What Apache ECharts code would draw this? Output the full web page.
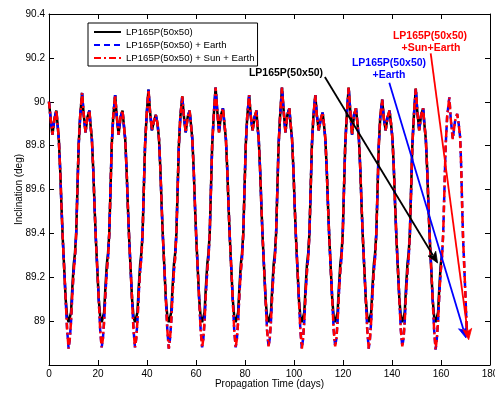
<!DOCTYPE html>
<html>
<head>
<meta charset="utf-8">
<script src="https://cdn.jsdelivr.net/npm/echarts@6/dist/echarts.min.js"></script>
<style>
  html, body { margin: 0; padding: 0; background: #fff; }
  #chart { width: 495px; height: 393px; }
</style>
</head>
<body>
<div id="chart"></div>
<script>
// propagation time (days), shared by all three runs
const days = [
  0, 0.6, 1.4, 2.2, 3.0, 3.4, 4.0, 4.6, 5.1, 5.6, 6.2, 6.8, 7.4,
  8.0, 8.5, 9.0, 9.5, 10.1, 10.6, 11.1, 11.6, 12.1, 12.7, 13.5, 14.1, 14.9, 15.7, 16.5, 16.9, 17.5, 18.1, 18.6, 19.1, 19.7, 20.3, 20.9,
  21.5, 22.0, 22.5, 23.0, 23.6, 24.1, 24.6, 25.1, 25.6, 26.2, 27.0, 27.6, 28.4, 29.2, 30.0, 30.5, 31.1, 31.7, 32.2, 32.7, 33.3, 33.9, 34.5,
  35.1, 35.6, 36.1, 36.6, 37.2, 37.7, 38.2, 38.7, 39.2, 39.8, 40.6, 41.2, 42.0, 42.8, 43.6, 44.3, 44.9, 45.5, 46.0, 46.5, 47.1, 47.7, 48.3,
  48.9, 49.4, 49.9, 50.4, 51.0, 51.5, 52.0, 52.5, 53.0, 53.6, 54.4, 55.0, 55.8, 56.6, 57.4, 57.9, 58.5, 59.1, 59.6, 60.1, 60.7, 61.3, 61.9,
  62.5, 63.0, 63.5, 64.0, 64.6, 65.1, 65.6, 66.1, 66.6, 67.2, 68.0, 68.6, 69.4, 70.2, 71.0, 71.6, 72.2, 72.8, 73.3, 73.8, 74.4, 75.0, 75.6,
  76.2, 76.7, 77.2, 77.7, 78.3, 78.8, 79.3, 79.8, 80.3, 80.9, 81.7, 82.3, 83.1, 83.9, 84.7, 85.0, 85.6, 86.2, 86.7, 87.2, 87.8, 88.4, 89.0,
  89.6, 90.1, 90.6, 91.1, 91.7, 92.2, 92.7, 93.2, 93.7, 94.3, 95.1, 95.7, 96.5, 97.3, 98.1, 98.6, 99.2, 99.8, 100.3, 100.8, 101.4, 102.0, 102.6,
  103.2, 103.7, 104.2, 104.7, 105.3, 105.8, 106.3, 106.8, 107.3, 107.9, 108.7, 109.3, 110.1, 110.9, 111.7, 112.2, 112.8, 113.4, 113.9, 114.4, 115.0, 115.6, 116.2,
  116.8, 117.3, 117.8, 118.3, 118.9, 119.4, 119.9, 120.4, 120.9, 121.5, 122.3, 122.9, 123.7, 124.5, 125.3, 125.9, 126.5, 127.1, 127.6, 128.1, 128.7, 129.3, 129.9,
  130.5, 131.0, 131.5, 132.0, 132.6, 133.1, 133.6, 134.1, 134.6, 135.2, 136.0, 136.6, 137.4, 138.2, 139.0, 139.6, 140.2, 140.8, 141.3, 141.8, 142.4, 143.0, 143.6,
  144.2, 144.7, 145.2, 145.7, 146.3, 146.8, 147.3, 147.8, 148.3, 148.9, 149.7, 150.3, 151.1, 151.9, 152.7, 153.2, 153.8, 154.4, 154.9, 155.4, 156.0, 156.6, 157.2,
  157.8, 158.3, 158.8, 159.3, 159.9, 160.4, 160.9, 161.4, 161.9, 162.5, 163.4, 164.0, 164.8, 165.7, 166.6, 167.2, 167.8, 168.2, 168.6, 169.0, 169.6, 170.1, 170.6
]

// LP165P(50x50) only - stops at ~160 days
const baseIncl = [
  90.0, 89.93, 89.85, 89.92, 89.96, 89.91, 89.83, 89.68, 89.52, 89.38, 89.24, 89.10, 89.02,
  88.995, 89.0, 89.04, 89.15, 89.26, 89.31, 89.40, 89.60, 89.80, 89.93, 90.04, 89.95, 89.86, 89.93, 89.96, 89.90, 89.83, 89.68, 89.52, 89.38, 89.24, 89.10, 89.02,
  88.995, 89.0, 89.04, 89.15, 89.26, 89.31, 89.40, 89.60, 89.80, 89.93, 90.03, 89.94, 89.85, 89.93, 89.96, 89.90, 89.83, 89.68, 89.52, 89.38, 89.24, 89.10, 89.02,
  88.995, 89.0, 89.04, 89.15, 89.26, 89.31, 89.40, 89.60, 89.80, 89.93, 90.055, 89.96, 89.87, 89.91, 89.94, 89.90, 89.83, 89.68, 89.52, 89.38, 89.24, 89.10, 89.02,
  88.995, 89.0, 89.04, 89.15, 89.26, 89.31, 89.40, 89.60, 89.80, 89.93, 90.025, 89.94, 89.86, 89.93, 89.96, 89.90, 89.83, 89.68, 89.52, 89.38, 89.24, 89.10, 89.02,
  88.995, 89.0, 89.04, 89.15, 89.26, 89.31, 89.40, 89.60, 89.80, 89.93, 90.065, 89.97, 89.86, 89.94, 89.97, 89.90, 89.83, 89.68, 89.52, 89.38, 89.24, 89.10, 89.02,
  88.995, 89.0, 89.04, 89.15, 89.26, 89.31, 89.40, 89.60, 89.80, 89.93, 90.03, 89.94, 89.87, 89.93, 89.96, 89.90, 89.83, 89.68, 89.52, 89.38, 89.24, 89.10, 89.02,
  88.995, 89.0, 89.04, 89.15, 89.26, 89.31, 89.40, 89.60, 89.80, 89.93, 90.065, 89.97, 89.86, 89.94, 89.97, 89.90, 89.83, 89.68, 89.52, 89.38, 89.24, 89.10, 89.02,
  88.995, 89.0, 89.04, 89.15, 89.26, 89.31, 89.40, 89.60, 89.80, 89.93, 90.03, 89.94, 89.87, 89.92, 89.95, 89.90, 89.83, 89.68, 89.52, 89.38, 89.24, 89.10, 89.02,
  88.995, 89.0, 89.04, 89.15, 89.26, 89.31, 89.40, 89.60, 89.80, 89.93, 90.065, 89.97, 89.85, 89.94, 89.97, 89.90, 89.83, 89.68, 89.52, 89.38, 89.24, 89.10, 89.02,
  88.995, 89.0, 89.04, 89.15, 89.26, 89.31, 89.40, 89.60, 89.80, 89.93, 90.01, 89.93, 89.87, 89.93, 89.96, 89.90, 89.83, 89.68, 89.52, 89.38, 89.24, 89.10, 89.02,
  88.995, 89.0, 89.04, 89.15, 89.26, 89.31, 89.40, 89.60, 89.80, 89.93, 90.06, 89.96, 89.87, 89.94, 89.97, 89.90, 89.83, 89.68, 89.52, 89.38, 89.24, 89.10, 89.02,
  88.995, 89.0, 89.04, 89.15, 89.26, 89.30
]

// LP165P(50x50) + Earth
const earthIncl = [
  90.0, 89.93, 89.85, 89.92, 89.96, 89.91, 89.83, 89.68, 89.52, 89.38, 89.24, 89.10, 88.96,
  88.875, 88.92, 89.00, 89.12, 89.23, 89.29, 89.40, 89.60, 89.80, 89.93, 90.04, 89.95, 89.86, 89.93, 89.96, 89.90, 89.83, 89.68, 89.52, 89.38, 89.24, 89.10, 88.96,
  88.88, 88.92, 89.00, 89.12, 89.23, 89.29, 89.40, 89.60, 89.80, 89.93, 90.03, 89.94, 89.85, 89.93, 89.96, 89.90, 89.83, 89.68, 89.52, 89.38, 89.24, 89.10, 88.96,
  88.88, 88.92, 89.00, 89.12, 89.23, 89.29, 89.40, 89.60, 89.80, 89.93, 90.055, 89.96, 89.87, 89.91, 89.94, 89.90, 89.83, 89.68, 89.52, 89.38, 89.24, 89.10, 88.96,
  88.875, 88.92, 89.00, 89.12, 89.23, 89.29, 89.40, 89.60, 89.80, 89.93, 90.025, 89.94, 89.86, 89.93, 89.96, 89.90, 89.83, 89.68, 89.52, 89.38, 89.24, 89.10, 88.96,
  88.88, 88.92, 89.00, 89.12, 89.23, 89.29, 89.40, 89.60, 89.80, 89.93, 90.065, 89.97, 89.86, 89.94, 89.97, 89.90, 89.83, 89.68, 89.52, 89.38, 89.24, 89.10, 88.96,
  88.88, 88.92, 89.00, 89.12, 89.23, 89.29, 89.40, 89.60, 89.80, 89.93, 90.03, 89.94, 89.87, 89.93, 89.96, 89.90, 89.83, 89.68, 89.52, 89.38, 89.24, 89.10, 88.96,
  88.885, 88.92, 89.00, 89.12, 89.23, 89.29, 89.40, 89.60, 89.80, 89.93, 90.065, 89.97, 89.86, 89.94, 89.97, 89.90, 89.83, 89.68, 89.52, 89.38, 89.24, 89.10, 88.96,
  88.875, 88.92, 89.00, 89.12, 89.23, 89.29, 89.40, 89.60, 89.80, 89.93, 90.03, 89.94, 89.87, 89.92, 89.95, 89.90, 89.83, 89.68, 89.52, 89.38, 89.24, 89.10, 88.96,
  88.885, 88.92, 89.00, 89.12, 89.23, 89.29, 89.40, 89.60, 89.80, 89.93, 90.065, 89.97, 89.85, 89.94, 89.97, 89.90, 89.83, 89.68, 89.52, 89.38, 89.24, 89.10, 88.96,
  88.875, 88.92, 89.00, 89.12, 89.23, 89.29, 89.40, 89.60, 89.80, 89.93, 90.01, 89.93, 89.87, 89.93, 89.96, 89.90, 89.83, 89.68, 89.52, 89.38, 89.24, 89.10, 88.96,
  88.885, 88.92, 89.00, 89.12, 89.23, 89.29, 89.40, 89.60, 89.80, 89.93, 90.06, 89.96, 89.87, 89.94, 89.97, 89.90, 89.83, 89.68, 89.52, 89.38, 89.24, 89.10, 88.96,
  88.87, 88.92, 89.00, 89.12, 89.23, 89.29, 89.40, 89.60, 89.80, 89.93, 90.02, 89.92, 89.83, 89.91, 89.945, 89.90, 89.84, 89.72, 89.54, 89.38, 89.22, 89.08, 88.93
]

// LP165P(50x50) + Sun + Earth: indistinguishable from the Earth run at this scale
const sunEarthIncl = earthIncl.slice()

const seriesNames = ['LP165P(50x50)', 'LP165P(50x50) + Earth', 'LP165P(50x50) + Sun + Earth']
const seriesColors = ['#000000', '#0000ff', '#ff0000']

const xMin = 0, xMax = 180, xStep = 20
const yMin = 88.8, yMax = 90.4, yStep = 0.2

// annotation arrows, [start, tip] in data units
const arrows = [
  { from: [112.6, 90.113], to: [158.6, 89.265], color: seriesColors[0] },
  { from: [138.9, 90.087], to: [170.2, 88.923], color: seriesColors[1] },
  { from: [155.8, 90.221], to: [171.3, 88.915], color: seriesColors[2] }
]

const FONT = 'Liberation Sans, Arial, sans-serif'

const chart = echarts.init(document.getElementById('chart'), null, { renderer: 'canvas' })

function axisCommon(pos) {
  return {
    type: 'value',
    position: pos,
    nameMoveOverlap: false,
    splitLine: { show: false },
    axisLine: { show: true, onZero: false, lineStyle: { color: '#000', width: 1 } },
    axisTick: { show: true, inside: true, length: 5, lineStyle: { color: '#000', width: 1 } },
  }
}

function label(text, x, y, color) {
  return {
    type: 'text', x: x, y: y, z: 100,
    style: {
      text: text, fill: color, font: 'bold 10.5px ' + FONT,
      textAlign: 'center', textVerticalAlign: 'middle', align: 'center', verticalAlign: 'middle'
    }
  }
}

const option = {
  animation: false,
  backgroundColor: '#fff',
  grid: { left: 49, top: 14, width: 441, height: 351, containLabel: false, outerBoundsMode: 'none' },
  legend: {
    orient: 'vertical',
    left: 88,
    top: 23,
    padding: [3, 3, 2, 5],
    itemGap: 1,
    itemWidth: 27,
    itemHeight: 10,
    backgroundColor: '#fff',
    borderColor: '#000',
    borderWidth: 1,
    itemStyle: { opacity: 0 },
    textStyle: { fontFamily: FONT, fontSize: 9.6, color: '#000', lineHeight: 12 },
    data: seriesNames
  },
  xAxis: [
    Object.assign(axisCommon('bottom'), {
      min: xMin, max: xMax, interval: xStep,
      name: 'Propagation Time (days)',
      nameLocation: 'middle',
      nameGap: 14,
      nameTextStyle: { fontFamily: FONT, fontSize: 10, color: '#000', verticalAlign: 'top' },
      axisLabel: { fontFamily: FONT, fontSize: 10, color: '#000', margin: 4 }
    }),
    Object.assign(axisCommon('top'), {
      min: xMin, max: xMax, interval: xStep,
      axisLabel: { show: false }
    })
  ],
  yAxis: [
    Object.assign(axisCommon('left'), {
      min: yMin, max: yMax, interval: yStep,
      name: 'Inclination (deg)',
      nameLocation: 'middle',
      nameGap: 25,
      nameTextStyle: { fontFamily: FONT, fontSize: 10, color: '#000' },
      axisLabel: {
        fontFamily: FONT, fontSize: 10, color: '#000', margin: 4,
        formatter: v => (Math.abs(v - yMin) < 1e-6 ? '' : String(+v.toFixed(1)))
      }
    }),
    Object.assign(axisCommon('right'), {
      min: yMin, max: yMax, interval: yStep,
      axisLabel: { show: false }
    })
  ],
  series: [
    {
      name: seriesNames[0],
      type: 'line',
      symbol: 'none',
      lineStyle: { color: seriesColors[0], width: 2.5, type: 'solid' },
      itemStyle: { color: seriesColors[0] },
      data: baseIncl.map((v, i) => [days[i], v])
    },
    {
      name: seriesNames[1],
      type: 'line',
      symbol: 'none',
      lineStyle: { color: seriesColors[1], width: 2.5, type: [6, 4] },
      itemStyle: { color: seriesColors[1] },
      data: earthIncl.map((v, i) => [days[i], v])
    },
    {
      name: seriesNames[2],
      type: 'line',
      symbol: 'none',
      lineStyle: { color: seriesColors[2], width: 2.5, type: [7, 3, 2, 3] },
      itemStyle: { color: seriesColors[2] },
      data: sunEarthIncl.map((v, i) => [days[i], v])
    }
  ]
}

chart.setOption(option)

// arrows are placed through the chart's own scales, then drawn as line + filled head
const graphics = [
  label('LP165P(50x50)', 286, 73, '#000'),
  label('LP165P(50x50)', 389, 63, '#0000ff'),
  label('+Earth', 389, 75, '#0000ff'),
  label('LP165P(50x50)', 430, 36, '#ff0000'),
  label('+Sun+Earth', 431, 48, '#ff0000')
]
arrows.forEach(a => {
  const p0 = chart.convertToPixel({ gridIndex: 0 }, a.from)
  const p1 = chart.convertToPixel({ gridIndex: 0 }, a.to)
  const dx = p1[0] - p0[0], dy = p1[1] - p0[1]
  const len = Math.sqrt(dx * dx + dy * dy)
  const ux = dx / len, uy = dy / len
  const headLen = 11, headHalf = 4.5
  const bx = p1[0] - ux * headLen, by = p1[1] - uy * headLen
  graphics.push({
    type: 'line', z: 90,
    shape: { x1: p0[0], y1: p0[1], x2: bx + ux * 2, y2: by + uy * 2 },
    style: { stroke: a.color, lineWidth: 1.8 }
  })
  graphics.push({
    type: 'polygon', z: 90,
    shape: { points: [
      [p1[0], p1[1]],
      [bx - uy * headHalf, by + ux * headHalf],
      [p1[0] - ux * headLen * 0.75, p1[1] - uy * headLen * 0.75],
      [bx + uy * headHalf, by - ux * headHalf]
    ] },
    style: { fill: a.color, stroke: a.color, lineWidth: 0.8 }
  })
})
chart.setOption({ graphic: graphics })
</script>
</body>
</html>
